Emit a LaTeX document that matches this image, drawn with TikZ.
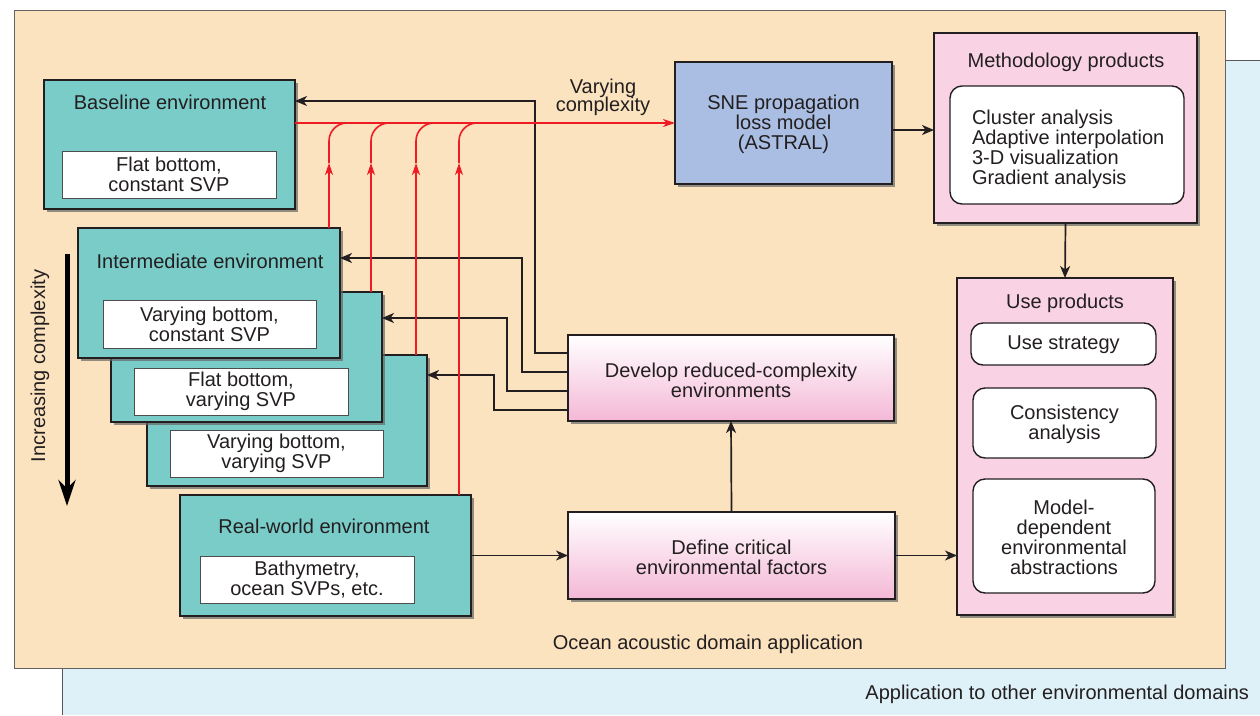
\documentclass[tikz,border=0pt]{standalone}
\usepackage{fontspec}
\setmainfont{Liberation Sans}
\usetikzlibrary{arrows.meta,shadows,calc}
\definecolor{beige}{RGB}{252,227,192}
\definecolor{lblue}{RGB}{222,241,249}
\definecolor{tealc}{RGB}{122,204,200}
\definecolor{pinkp}{RGB}{249,211,228}
\definecolor{pinkg}{RGB}{244,184,214}
\definecolor{sneblue}{RGB}{169,190,226}
\definecolor{redl}{RGB}{237,28,36}
\definecolor{ink}{RGB}{35,31,32}
\begin{document}
\begin{tikzpicture}[x=1pt,y=-1pt,
  font=\fontsize{20}{20}\selectfont, text=ink,
  every node/.style={inner sep=0pt,outer sep=0pt,align=center},
  sz/.style 2 args={minimum width=#1pt,minimum height=#2pt},
  box/.style={draw=ink,line width=1.6pt,anchor=north west,
    drop shadow={shadow xshift=3pt,shadow yshift=-3pt,fill=black!60,opacity=0.7}},
  tealbox/.style={box,fill=tealc},
  whitebox/.style={draw=ink!80,line width=1pt,fill=white,anchor=north west},
  roundbox/.style={draw=ink,line width=1.4pt,fill=white,rounded corners=12pt,anchor=north west},
  pinkbox/.style={box,fill=pinkp},
  gradbox/.style={box,top color=white,bottom color=pinkg},
  snebox/.style={box,fill=sneblue},
  arr/.style={draw=ink,line width=1.7pt,-{Stealth[length=12pt,width=10pt,inset=3.5pt]}},
  redarr/.style={draw=redl,line width=1.6pt,-{Stealth[length=12pt,width=8pt,inset=3.5pt]}},
  redline/.style={draw=redl,line width=1.6pt},
]
\useasboundingbox (0,0) rectangle (1260,715);
% backgrounds
\fill[lblue] (62,60) rectangle (1260,715);
\draw[ink!75,line width=1pt] (1260,60) -- (62,60) -- (62,715);
\draw[fill=beige,draw=ink!70,line width=1pt] (14,10) rectangle (1225,668);

% environment boxes
\node[tealbox,sz={251}{129}] (base) at (44,80) {};
\node (baset) at (170,102) {Baseline environment};
\node[whitebox,sz={214}{47}] (basei) at (62,151) {};
\node at (basei.center) {Flat bottom,\\constant SVP};

\node[tealbox,sz={280}{131}] (b3) at (147,355) {};
\node[whitebox,sz={213}{47}] (b3i) at (170,430) {};
\node at (b3i.center) {Varying bottom,\\varying SVP};

\node[tealbox,sz={271}{130}] (b2) at (111,292) {};
\node[whitebox,sz={214}{47}] (b2i) at (134,368) {};
\node at (b2i.center) {Flat bottom,\\varying SVP};

\node[tealbox,sz={262}{130}] (int) at (78,228) {};
\node (intt) at (210,261) {Intermediate environment};
\node[whitebox,sz={213}{48}] (inti) at (103,300) {};
\node at (inti.center) {Varying bottom,\\constant SVP};

\node[tealbox,sz={291}{121}] (real) at (180,495) {};
\node (realt) at (324,526) {Real-world environment};
\node[whitebox,sz={214}{47}] (reali) at (200,556) {};
\node at (reali.center) {Bathymetry,\\ocean SVPs, etc.};

% increasing complexity
\node[rotate=90] (inc) at (40,366) {Increasing complexity};
\coordinate (inctop) at (67,254);
\coordinate (incbot) at (67,506);
\draw[draw=black,line width=5pt,-{Stealth[length=26pt,width=17pt]}] (inctop) -- (incbot);

% SNE
\node[snebox,sz={217}{122}] (sne) at (675,62) {};
\node at ($(sne.center)+(0,1)$) {SNE propagation\\loss model\\(ASTRAL)};
\node (vc) at (603,97) {Varying\\[-2pt]complexity};

% methodology
\node[pinkbox,sz={263}{190}] (meth) at (934,33) {};
\node (metht) at (1066,62) {Methodology products};
\node[roundbox,sz={234}{118}] (methi) at (950,86) {};
\node[anchor=west,align=left] at (972,149) {Cluster analysis\\Adaptive interpolation\\3-D visualization\\Gradient analysis};

% use products
\node[pinkbox,sz={216}{337}] (use) at (957,278) {};
\node (uset) at (1065,303) {Use products};
\node[roundbox,sz={185}{42}] (us) at (971,323) {};
\node at ($(us.center)+(0,1)$) {Use strategy};
\node[roundbox,sz={183}{70}] (ca) at (973,388) {};
\node at ($(ca.center)+(0,1)$) {Consistency\\analysis};
\node[roundbox,sz={182}{114}] (md) at (973,479) {};
\node at ($(md.center)+(0,1)$) {Model-\\dependent\\environmental\\abstractions};

% develop / define
\node[gradbox,sz={326}{86}] (dev) at (568,335) {};
\node at ($(dev.center)+(0,2)$) {Develop reduced-complexity\\environments};
\node[gradbox,sz={327}{87}] (def) at (568,512) {};
\node at ($(def.center)+(0,2)$) {Define critical\\environmental factors};

% texts at bottom
\node (ocean) at (708,644) {Ocean acoustic domain application};
\node[anchor=east] (other) at (1249,694) {Application to other environmental domains};

% black connectors
\draw[arr] (real.east) -- (def.west);
\draw[arr] (def.east) -- (def.east -| use.west);
\draw[arr] (def.north) -- (dev.south);
\draw[arr] (meth.south) -- (use.north);
\coordinate (sm) at (892,130);
\draw[arr] (sm) -- (sm -| meth.west);
\draw[arr] ($(dev.north west)+(0,18)$) -| ($(base.north east)+(240,21)$) -- ($(base.north east)+(0,21)$);
\draw[arr] ($(dev.north west)+(0,37)$) -| ($(int.north east)+(182,30)$) -- ($(int.north east)+(0,30)$);
\draw[arr] ($(dev.north west)+(0,56)$) -| ($(b2.north east)+(125,26)$) -- ($(b2.north east)+(0,26)$);
\draw[arr] ($(dev.north west)+(0,75)$) -| ($(b3.north east)+(67,20)$) -- ($(b3.north east)+(0,20)$);

% red connectors
\draw[redarr] (base.east |- sne.west) -- (sne.west);
\coordinate (r1) at (329,123);
\coordinate (r2) at (371,123);
\coordinate (r3) at (416,123);
\coordinate (r4) at (459,123);
\coordinate (tipl) at (0,163);
\foreach \r/\b in {r1/int,r2/b2,r3/b3,r4/real}{
  \draw[redarr] (\b.north -| \r) -- (\r |- tipl);
  \draw[redline,rounded corners=18pt] (\r |- tipl) |- ($(\r)+(40,0)$);
}
\end{tikzpicture}
\end{document}
